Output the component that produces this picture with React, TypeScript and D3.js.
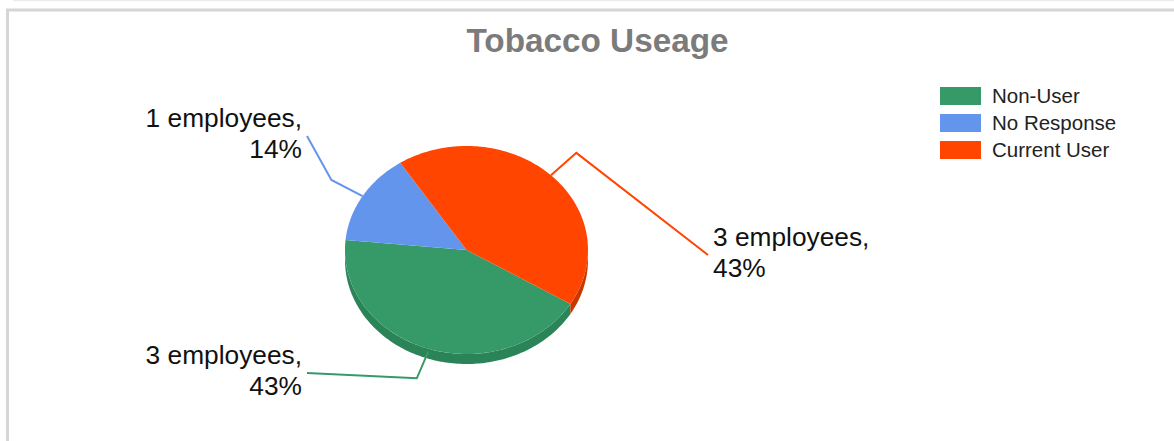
import React from "react";
import * as d3 from "d3";

const categories = ["Non-User", "No Response", "Current User"];
const counts = [3, 1, 3];
const colors = ["#359a68", "#6495ed", "#ff4500"];
const sideColors = ["#2b8457", "#5580cc", "#c83700"];
const titleText = "Tobacco Useage";

// layout (not data)
const W = 1174;
const H = 441;
const cx = 466.5;
const cy = 250;
const rx = 121.5;
const ry = 104;
const depth = 10;
const startDeg = 121.2;
const labelEndY: Record<string, number> = { "Non-User": 373, "No Response": 136, "Current User": 255 };
const leftLabelX = 307;
const rightLabelX = 708;

function pt(theta: number, k = 1, dy = 0): [number, number] {
  return [cx + rx * k * Math.sin(theta), cy - ry * k * Math.cos(theta) + dy];
}

function arcPts(a1: number, a2: number, dy = 0): [number, number][] {
  const n = Math.max(2, Math.ceil(Math.abs(a2 - a1) / 0.02));
  const out: [number, number][] = [];
  for (let i = 0; i <= n; i++) out.push(pt(a1 + ((a2 - a1) * i) / n, 1, dy));
  return out;
}

export default function App() {
  const total = d3.sum(counts);
  const pie = d3
    .pie<number>()
    .sort(null)
    .startAngle((startDeg * Math.PI) / 180)
    .endAngle((startDeg * Math.PI) / 180 + 2 * Math.PI);
  const arcs = pie(counts);
  const line = d3.line();

  const sides: { path: string; color: string }[] = [];
  arcs.forEach((a, i) => {
    for (const off of [0, 2 * Math.PI, -2 * Math.PI]) {
      const s = Math.max(a.startAngle + off, Math.PI / 2);
      const e = Math.min(a.endAngle + off, (3 * Math.PI) / 2);
      if (e > s) {
        const top = arcPts(s, e, 0);
        const bot = arcPts(e, s, depth);
        sides.push({ path: line([...top, ...bot])! + "Z", color: sideColors[i] });
      }
    }
  });

  return (
    <svg
      width={W}
      height={H}
      style={{ position: "absolute", left: 0, top: 0, background: "#fff" }}
      fontFamily="'Liberation Sans', Arial, sans-serif"
    >
      <rect x={0} y={0} width={W} height={H} fill="#fff" />
      <line x1={13} x2={W} y1={0.5} y2={0.5} stroke="#ececec" strokeWidth={1.5} />
      <path d={`M7.5,${H + 5} V10 H${W + 5}`} fill="none" stroke="#d6d6d6" strokeWidth={3} />
      <text x={597.5} y={52} textAnchor="middle" fontSize={33.3} fontWeight="bold" fill="#7b7b7b">
        {titleText}
      </text>

      {sides.map((s, i) => (
        <path key={"s" + i} d={s.path} fill={s.color} />
      ))}
      {arcs.map((a, i) => {
        const pts = [[cx, cy] as [number, number], ...arcPts(a.startAngle, a.endAngle)];
        return <path key={"t" + i} d={line(pts)! + "Z"} fill={colors[i]} />;
      })}

      {arcs.map((a, i) => {
        const mid = (a.startAngle + a.endAngle) / 2;
        const anchor = pt(mid, 1, Math.cos(mid) < 0 ? 3 : 0);
        const bend = pt(mid, 1.3);
        const isLeft = Math.sin(mid) < 0;
        const endY = labelEndY[categories[i]];
        const endX = isLeft ? leftLabelX : rightLabelX;
        const pct = Math.round((counts[i] / total) * 100);
        const tx = isLeft ? endX - 5 : endX + 5;
        return (
          <g key={"l" + i}>
            <path
              d={line([anchor, bend, [endX, endY]])!}
              fill="none"
              stroke={colors[i]}
              strokeWidth={2}
            />
            <text x={tx} y={endY - 9} fontSize={26.3} textAnchor={isLeft ? "end" : "start"} fill="#111">
              {counts[i]} employees,
            </text>
            <text x={tx} y={endY + 22} fontSize={26.3} textAnchor={isLeft ? "end" : "start"} fill="#111">
              {pct}%
            </text>
          </g>
        );
      })}

      {categories.map((c, i) => (
        <g key={"lg" + i} transform={`translate(940,${87 + i * 27})`}>
          <rect width={41} height={18} fill={colors[i]} />
          <text x={52} y={16} fontSize={20.5} fill="#222">
            {c}
          </text>
        </g>
      ))}
    </svg>
  );
}
